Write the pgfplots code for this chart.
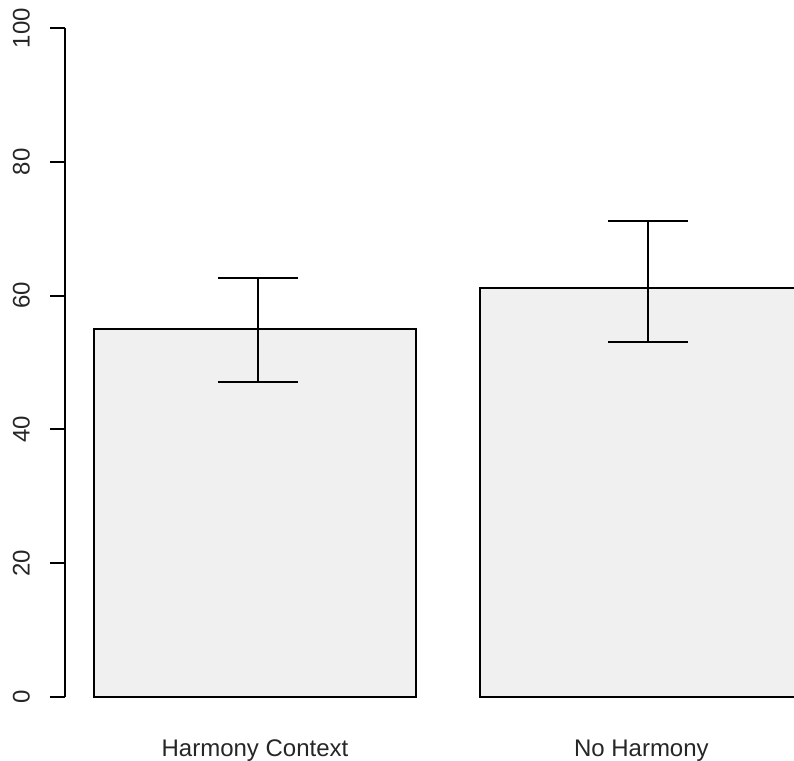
\documentclass[border=0pt]{standalone}
\usepackage{pgfplots}
\pgfplotsset{compat=1.18}
\usepackage{fontspec}
\setmainfont{Liberation Sans}
\begin{document}
\begin{tikzpicture}
\useasboundingbox (0,0) rectangle (397pt,380.5pt);
\begin{axis}[
  at={(32.5pt,32pt)}, anchor=south west,
  scale only axis, width=364.5pt, height=334.5pt,
  xmin=0.11, xmax=2.374, ymin=0, ymax=100,
  clip=false,
  axis lines*=left,
  x axis line style={draw=none},
  y axis line style={line width=1pt,-},
  ytick={0,20,40,60,80,100},
  xtick={0.7,1.9},
  xticklabels={Harmony Context, No Harmony},
  xtick style={draw=none},
  ytick style={line width=1pt, black},
  tick align=outside,
  major tick length=7.5pt,
  /pgf/number format/assume math mode=true,
  yticklabel shift=6.5pt,
  yticklabel style={rotate=90, anchor=south, font=\fontsize{12}{14}\selectfont, text=black!85},
  xticklabel style={font=\fontsize{12}{14}\selectfont, yshift=-10.5pt, text=black!85},
]
\addplot[ybar, bar width=1, fill=black!6, draw=black, line width=1pt]
  coordinates {(0.7,55.0) (1.9,61.1)};
\addplot[draw=none, no markers,
  error bars/.cd, y dir=both, y explicit,
  error mark=|,
  error bar style={line width=1pt, black},
  error mark options={mark size=20pt, line width=1pt, black, draw=black}]
  table[x=x, y=y, y error plus=ep, y error minus=em] {
x    y     ep    em
0.71 55.0  7.6   7.9
1.92 61.1  10.1  8.1
};
\end{axis}
\end{tikzpicture}
\end{document}
